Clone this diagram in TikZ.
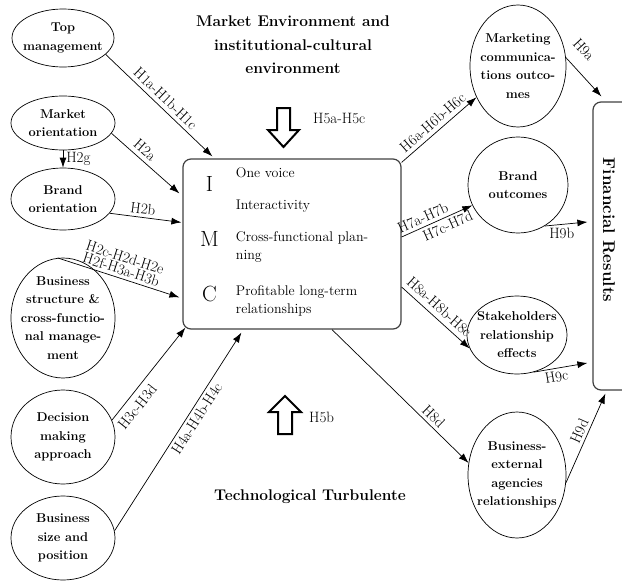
\documentclass[tikz,border=0pt]{standalone}
\usepackage{fontspec}
\usepackage{tikz}
\usetikzlibrary{calc,positioning,arrows.meta,shapes.geometric}

\begin{document}
\begin{tikzpicture}[x=1pt, y=-1pt,
    cons/.style={draw, ellipse, inner sep=0pt, line width=0.7pt},
    ctext/.style={align=center, font=\fontsize{12.8}{18.5}\selectfont\bfseries},
    hyp/.style={font=\fontsize{15}{12.5}\selectfont, inner sep=3pt},
    link/.style={-{Latex[length=10pt,width=7pt]}, line width=0.7pt},
    frame/.style={draw=black!75, line width=1.2pt, rounded corners=8pt},
    bigarrow/.style={draw, line width=2pt, line join=miter, fill=white}]
    \useasboundingbox (0,0) rectangle (622,581);

    % titles
    \node[font=\fontsize{15.5}{23.5}\selectfont\bfseries, align=center] (mkenv) at (293,45) {Market Environment and\\institutional-cultural\\environment};
    \node[font=\fontsize{15.5}{18}\selectfont\bfseries] (tech) at (310,497) {Technological Turbulente};

    % antecedents
    \node[cons, minimum width=102pt, minimum height=58pt, label={[ctext]center:{Top\\management}}] (topm) at (63,38) {};
    \node[cons, minimum width=104pt, minimum height=54pt, label={[ctext]center:{Market\\orientation}}] (mkto) at (63,123) {};
    \node[cons, minimum width=104pt, minimum height=62pt, label={[ctext]center:{Brand\\orientation}}] (brdo) at (63,199) {};
    \node[cons, minimum width=104pt, minimum height=120pt, label={[ctext]center:{Business\\structure \&\\cross-functio-\\nal manage-\\ment}}] (bsst) at (63,318) {};
    \node[cons, minimum width=104pt, minimum height=94pt, label={[ctext]center:{Decision\\making\\approach}}] (dcsn) at (63,437) {};
    \node[cons, minimum width=104pt, minimum height=84pt, label={[ctext]center:{Business\\size and\\position}}] (bsiz) at (63,538) {};

    % IMC box
    \node[frame, minimum width=218pt, minimum height=170pt] (imc) at (292,244) {};
    \node[font=\fontsize{22}{22}\selectfont] (li) at ($(imc.north west)+(27,26)$) {I};
    \node[font=\fontsize{22}{22}\selectfont] (lm) at ($(imc.north west)+(27,81)$) {M};
    \node[font=\fontsize{22}{22}\selectfont] (lc) at ($(imc.north west)+(27,136)$) {C};
    \node[anchor=west, font=\fontsize{14}{18}\selectfont] (t1) at ($(imc.north west)+(50,14)$) {One voice};
    \node[anchor=west, font=\fontsize{14}{18}\selectfont] (t2) at ($(imc.north west)+(50,48)$) {Interactivity};
    \node[anchor=west, align=left, font=\fontsize{14}{18}\selectfont] (t3) at ($(imc.north west)+(50,89)$) {Cross-functional plan-\\ning};
    \node[anchor=west, align=left, font=\fontsize{14}{18}\selectfont] (t4) at ($(imc.north west)+(50,142.5)$) {Profitable long-term\\relationships};

    % outcomes
    \node[cons, minimum width=96pt, minimum height=122pt, label={[ctext]center:{Marketing\\communica-\\tions outco-\\mes}}] (mkco) at (518,66) {};
    \node[cons, minimum width=100pt, minimum height=96pt, label={[ctext]center:{Brand\\outcomes}}] (brdu) at (518,185) {};
    \node[cons, minimum width=100pt, minimum height=78pt, label={[ctext]center:{Stakeholders\\relationship\\effects}}] (stkh) at (517,335) {};
    \node[cons, minimum width=98pt, minimum height=126pt, label={[ctext]center:{Business-\\external\\agencies\\relationships}}] (bext) at (517,475) {};

    \node[frame, minimum width=60pt, minimum height=288pt] (finres) at (623,246) {};
    \node[rotate=-90, font=\fontsize{17}{20}\selectfont\bfseries] (fintxt) at (609,230) {Financial Results};

    % environment arrows
    \draw[bigarrow] (277,108) -- (290,108) -- (290,130) -- (299,130) -- (283.5,147) -- (268,130) -- (277,130) -- cycle;
    \node[hyp, anchor=west] (h5ac) at (310,118) {H5a-H5c};
    \draw[bigarrow] (278,434) -- (292,434) -- (292,412) -- (301,412) -- (285,396) -- (269,412) -- (278,412) -- cycle;
    \node[hyp, anchor=west] (h5b) at (306,417) {H5b};

    % hypotheses into IMC
    \draw[link] (topm.-21) -- node[hyp, sloped, above=1pt] {H1a-H1b-H1c} ($(imc.north west)+(30,-2)$);
    \draw[link] (mkto.-12) -- node[hyp, sloped, above=1pt, pos=0.4] {H2a} ($(imc.north west)+(-3,35)$);
    \draw[link] (mkto.south) -- node[hyp, right] {H2g} (brdo.north);
    \draw[link] (brdo.-17) -- node[hyp, sloped, above, pos=0.45] {H2b} ($(imc.north west)+(-1,64)$);
    \draw[link] (bsst.95) -- node[hyp, sloped, above, align=center, pos=0.5] {H2c-H2d-H2e\\H2f-H3a-H3b} ($(imc.north west)+(-3,139)$);
    \draw[link] (dcsn.19) -- node[hyp, sloped, below=3pt, pos=0.22] {H3c-H3d} ($(imc.south west)+(3,-2)$);
    \draw[link] (bsiz.8) -- node[hyp, sloped, below, pos=0.59] {H4a-H4b-H4c} ($(imc.south west)+(59,3)$);

    % hypotheses out of IMC
    \draw[link] ($(imc.north east)+(0,4)$) -- node[hyp, sloped, above=1pt] {H6a-H6b-H6c} (mkco.217);
    \draw[link] ($(imc.east)+(0,-7)$) -- node[hyp, sloped, above, pos=0.35] {H7a-H7b} node[hyp, sloped, below, pos=0.6] {H7c-H7d} (brdu.204);
    \draw[link] ($(imc.east)+(0,43)$) -- node[hyp, sloped, above=2pt, pos=0.45] {H8a-H8b-H8c} (stkh.196);
    \draw[link] ($(imc.south)+(40,0)$) -- node[hyp, sloped, above, pos=0.7] {H8d} (bext.166);

    % into financial results
    \draw[link] (mkco.10) -- node[hyp, sloped, above=10pt, pos=0.12] {H9a} ($(finres.north west)+(9,-5)$);
    \draw[link] (brdu.-57) -- node[hyp, below, pos=0.4] {H9b} ($(finres.west)+(-5,-24)$);
    \draw[link] (stkh.-66) -- node[hyp, sloped, below, pos=0.4] {H9c} ($(finres.west)+(-5,117)$);
    \draw[link] (bext.-9) -- node[hyp, sloped, above, pos=0.54] {H9d} ($(finres.south west)+(13,3)$);
\end{tikzpicture}
\end{document}
